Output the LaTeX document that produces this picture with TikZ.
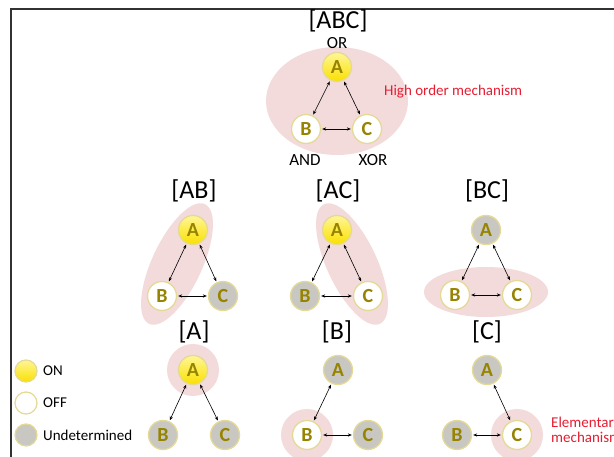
\documentclass[tikz,border=0pt]{standalone}
\usepackage{fontspec}
\setmainfont{Carlito}
\usetikzlibrary{arrows.meta}
\definecolor{pinkhl}{RGB}{243,219,219}
\definecolor{nodeborder}{RGB}{228,218,150}
\definecolor{lettercol}{RGB}{150,132,0}
\definecolor{undfill}{RGB}{200,199,194}
\definecolor{ontop}{RGB}{255,246,150}
\definecolor{onbot}{RGB}{250,224,0}
\definecolor{redtxt}{RGB}{230,30,50}
\definecolor{framecol}{RGB}{50,50,50}
\tikzset{
  nd/.style={circle, minimum size=29pt, inner sep=0pt, draw=nodeborder, line width=1.3pt,
     font=\fontsize{20}{20}\selectfont\bfseries, text=lettercol},
  onnode/.style={nd, top color=ontop, bottom color=onbot},
  offnode/.style={nd, fill=white},
  undnode/.style={nd, fill=undfill},
  lg/.style={circle, minimum size=22pt, inner sep=0pt, draw=nodeborder, line width=1.2pt},
  conn/.style={{Stealth[length=4pt,width=3.2pt]}-{Stealth[length=4pt,width=3.2pt]}, line width=0.6pt, black, shorten <=1pt, shorten >=1pt},
  ttl/.style={font=\fontsize{26}{26}\selectfont, inner sep=0pt},
  lbl/.style={font=\fontsize{17}{17}\selectfont, inner sep=0pt},
  redlbl/.style={font=\fontsize{15}{15}\selectfont, text=redtxt, inner sep=0pt, align=left},
  lgtxt/.style={font=\fontsize{15}{15}\selectfont, inner sep=0pt, anchor=west},
  hl/.style={fill=pinkhl, draw=none}
}
\begin{document}
\begin{tikzpicture}[x=1pt,y=-1pt]
\useasboundingbox (0,0) rectangle (614,457);
\clip (0,0) rectangle (614,457);
\fill[white] (0,0) rectangle (614,457);
% frame
\draw[framecol, line width=2pt] (11,460) -- (11,9) -- (616,9);

% ===== [ABC] =====
\fill[hl] (337,101) ellipse [x radius=71pt, y radius=54pt];
\node[ttl] (tABC) at (338,21) {[ABC]};
\node[onnode] (abcA) at (337,67) {A};
\node[offnode] (abcB) at (306,129) {B};
\node[offnode] (abcC) at (367,129) {C};
\draw[conn] (abcA) -- (abcB);
\draw[conn] (abcA) -- (abcC);
\draw[conn] (abcB) -- (abcC);
\node[lbl] (lOR) at (337,43) {OR};
\node[lbl] (lAND) at (305,160) {AND};
\node[lbl] (lXOR) at (373,160) {XOR};
\node[redlbl, anchor=west] (hom) at (384,92) {High order mechanism};

% ===== [AB] =====
\fill[hl, rotate around={65:(177,264)}] (177,264) ellipse [x radius=66pt, y radius=25pt];
\node[ttl] (tAB) at (194,191) {[AB]};
\node[onnode] (abA) at (193,230) {A};
\node[offnode] (abB) at (162,296) {B};
\node[undnode] (abC) at (223,296) {C};
\draw[conn] (abA) -- (abB);
\draw[conn] (abA) -- (abC);
\draw[conn] (abB) -- (abC);

% ===== [AC] =====
\fill[hl, rotate around={-65:(352,264)}] (352,264) ellipse [x radius=66pt, y radius=25pt];
\node[ttl] (tAC) at (338,191) {[AC]};
\node[onnode] (acA) at (337,230) {A};
\node[undnode] (acB) at (305,296) {B};
\node[offnode] (acC) at (368,296) {C};
\draw[conn] (acA) -- (acB);
\draw[conn] (acA) -- (acC);
\draw[conn] (acB) -- (acC);

% ===== [BC] =====
\fill[hl] (486,292) ellipse [x radius=62pt, y radius=25pt];
\node[ttl] (tBC) at (487,191) {[BC]};
\node[undnode] (bcA) at (486,230) {A};
\node[offnode] (bcB) at (455,295) {B};
\node[offnode] (bcC) at (517,295) {C};
\draw[conn] (bcA) -- (bcB);
\draw[conn] (bcA) -- (bcC);
\draw[conn] (bcB) -- (bcC);

% ===== [A] =====
\fill[hl] (193,370) circle [radius=26pt];
\node[ttl] (tA) at (194,332) {[A]};
\node[onnode] (aA) at (193,370) {A};
\node[undnode] (aB) at (163,435) {B};
\node[undnode] (aC) at (225,435) {C};
\draw[conn] (aA) -- (aB);
\draw[conn] (aA) -- (aC);

% ===== [B] =====
\fill[hl] (307,435) circle [radius=26pt];
\node[ttl] (tB) at (337,332) {[B]};
\node[undnode] (bA) at (338,370) {A};
\node[offnode] (bB) at (307,435) {B};
\node[undnode] (bC) at (368,435) {C};
\draw[conn] (bA) -- (bB);
\draw[conn] (bB) -- (bC);

% ===== [C] =====
\fill[hl] (517,435) circle [radius=26pt];
\node[ttl] (tC) at (487,332) {[C]};
\node[undnode] (cA) at (487,370) {A};
\node[undnode] (cB) at (457,435) {B};
\node[offnode] (cC) at (517,435) {C};
\draw[conn] (cA) -- (cC);
\draw[conn] (cB) -- (cC);
\node[redlbl, anchor=west] (elem) at (551,430) {Elementary\\mechanism};

% ===== legend =====
\node[lg, top color=ontop, bottom color=onbot] (lgOn) at (26,371) {};
\node[lg, fill=white] (lgOff) at (26,403) {};
\node[lg, fill=undfill] (lgUnd) at (26,435) {};
\node[lgtxt] (tOn) at (43,371) {ON};
\node[lgtxt] (tOff) at (43,403) {OFF};
\node[lgtxt] (tUnd) at (43,435) {Undetermined};
\end{tikzpicture}
\end{document}
